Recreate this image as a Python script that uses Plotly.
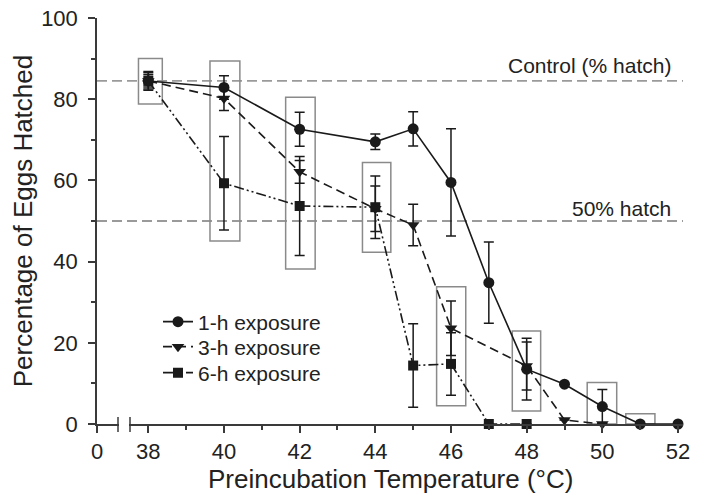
import plotly.graph_objects as go

# ---- data ----
temp_1h = [38, 40, 42, 44, 45, 46, 47, 48, 49, 50, 51, 52]
hatch_1h = [84.5, 82.9, 72.6, 69.5, 72.7, 59.5, 34.8, 13.5, 9.8, 4.3, 0, 0]
err_1h = [2.3, 2.9, 4.2, 1.9, 4.2, 13.2, 10.0, 7.6, 0, 4.2, 0, 0]

temp_3h = [38, 40, 42, 44, 45, 46, 48, 49, 50]
hatch_3h = [84.5, 80.2, 62.1, 53.0, 49.0, 23.6, 14.3, 1.0, 0.0]
err_3h = [2.0, 3.0, 2.8, 5.6, 5.1, 6.7, 5.9, 0, 0]

temp_6h = [38, 40, 42, 44, 45, 46, 47, 48]
hatch_6h = [84.5, 59.3, 53.7, 53.4, 14.4, 14.8, 0, 0]
err_6h = [1.5, 11.5, 12.2, 7.7, 10.3, 7.7, 0, 0]

control_hatch = 84.5
half_hatch = 50

# grouping boxes: (x0, x1, y0, y1)
box_x0 = [37.74, 39.63, 41.63, 43.66, 45.62, 47.62, 49.60, 50.62]
box_x1 = [38.37, 40.42, 42.41, 44.41, 46.39, 48.37, 50.38, 51.39]
box_y0 = [78.8, 45.1, 38.2, 42.3, 4.5, 3.2, 0.0, 0.0]
box_y1 = [90.0, 89.4, 80.5, 64.4, 33.8, 22.9, 10.2, 2.5]

# broken x axis: the "0" label sits at the left end, before the break
x_zero_pos = 36.65
x_ticks = [38, 40, 42, 44, 46, 48, 50, 52]
x_minor = [39, 41, 43, 45, 47, 49, 51]
y_ticks = [0, 20, 40, 60, 80, 100]

FONT = "Arial, Liberation Sans, Helvetica, sans-serif"
INK = "#1a1a1a"
AX = "#3a3a3a"
TXT = "#222222"

def clean(e):
    return [v if v > 0 else None for v in e]

fig = go.Figure()

common_err = dict(type="data", color=INK, thickness=1.5, width=5)

fig.add_trace(go.Scatter(
    x=temp_1h, y=hatch_1h, name="1-h exposure",
    mode="lines+markers", legend="legend",
    line=dict(color=INK, width=1.6),
    marker=dict(symbol="circle", size=11, color=INK),
    error_y=dict(array=clean(err_1h), **common_err),
    cliponaxis=False,
))
fig.add_trace(go.Scatter(
    x=temp_3h, y=hatch_3h, name="3-h exposure",
    mode="lines+markers", legend="legend2",
    line=dict(color=INK, width=1.6, dash="9px,5px"),
    marker=dict(symbol="triangle-down", size=11, color=INK),
    error_y=dict(array=clean(err_3h), **common_err),
    cliponaxis=False,
))
fig.add_trace(go.Scatter(
    x=temp_6h, y=hatch_6h, name="6-h exposure",
    mode="lines+markers", legend="legend3",
    line=dict(color=INK, width=1.6, dash="10px,3px,2px,3px,2px,3px"),
    marker=dict(symbol="square", size=10, color=INK),
    error_y=dict(array=clean(err_6h), **common_err),
    cliponaxis=False,
))

W = 586.0
H = 406.0

shapes = []
for x0, x1, y0, y1 in zip(box_x0, box_x1, box_y0, box_y1):
    shapes.append(dict(type="rect", xref="x", yref="y", x0=x0, x1=x1, y0=y0, y1=y1,
                       line=dict(color="#8a8a8a", width=1.5), layer="below"))
for yv in (control_hatch, half_hatch):
    shapes.append(dict(type="line", xref="paper", yref="y", x0=0, x1=1, y0=yv, y1=yv,
                       line=dict(color="#9a9a9a", width=1.8, dash="10px,5px"), layer="below"))

# axis break: gap in the axis line plus two marks
shapes.append(dict(type="rect", xref="paper", yref="paper",
                   x0=(119 - 97) / W, x1=(129 - 97) / W, y0=-3 / H, y1=3 / H,
                   line=dict(width=0), fillcolor="white", layer="above"))
for px in (118, 130):
    xp = (px - 97) / W
    shapes.append(dict(type="line", xref="paper", yref="paper", x0=xp, x1=xp,
                       y0=-8 / H, y1=7 / H, line=dict(color=AX, width=1.5), layer="above"))

annotations = [
    dict(text="Control (% hatch)", xref="x", yref="y", x=51.87, y=88.2,
         xanchor="right", yanchor="middle", showarrow=False,
         font=dict(family=FONT, size=21, color=TXT)),
    dict(text="50% hatch", xref="x", yref="y", x=51.87, y=53.2,
         xanchor="right", yanchor="middle", showarrow=False,
         font=dict(family=FONT, size=21, color=TXT)),
    dict(text="Preincubation Temperature (°C)", xref="paper", yref="paper",
         x=0.5, y=-55 / H, xanchor="center", yanchor="middle", showarrow=False,
         font=dict(family=FONT, size=26, color=TXT)),
]

axis_common = dict(showline=True, linecolor=AX, linewidth=1.5, ticks="outside",
                   ticklen=7, tickwidth=1.5, tickcolor=AX, showgrid=False, zeroline=False,
                   automargin=False, ticklabeloverflow="allow",
                   tickfont=dict(family=FONT, size=22, color=TXT))

def leg(ypx):
    return dict(x=(158 - 97) / W, y=(424 - ypx) / H, xanchor="left", yanchor="middle",
                bgcolor="rgba(0,0,0,0)", borderwidth=0,
                font=dict(family=FONT, size=21, color=TXT), itemwidth=30)

fig.update_layout(
    template="none",
    width=696, height=488,
    margin=dict(l=89, r=21, t=10, b=72, pad=0),
    paper_bgcolor="white", plot_bgcolor="white",
    showlegend=True,
    legend=leg(322), legend2=leg(347), legend3=leg(373),
    xaxis=dict(range=[36.644, 52.132],
               tickvals=[x_zero_pos] + x_ticks,
               ticktext=["0"] + [str(t) for t in x_ticks],
               minor=dict(tickmode="array", tickvals=x_minor, ticks="outside",
                          ticklen=4, tickwidth=1.5, tickcolor=AX),
               **axis_common),
    yaxis=dict(range=[0, 100], tickvals=y_ticks,
               minor=dict(dtick=10, tick0=0, ticks="outside", ticklen=4, tickwidth=1.5, tickcolor=AX),
               ticklabelstandoff=6,
               title=dict(text="Percentage of Eggs Hatched", standoff=8,
                          font=dict(family=FONT, size=26, color=TXT)),
               **axis_common),
    shapes=shapes,
    annotations=annotations,
)

fig.write_html("out.html")
